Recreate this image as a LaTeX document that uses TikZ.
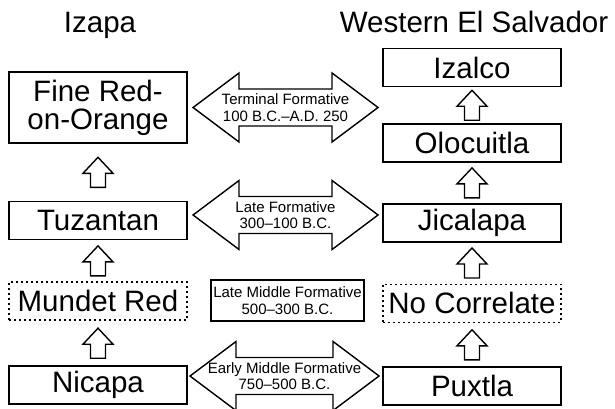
\documentclass[tikz,border=0pt]{standalone}
\usepackage{fontspec}
\setmainfont{Liberation Sans}
\usetikzlibrary{positioning, calc}

% hollow block arrow pointing up, between a lower and an upper box
\newcommand{\blockup}[3]{%
  \coordinate (#1) at ($(#2.north)!0.5!(#3.south)$);
  \draw[climb] ($(#1)+(-7.5,-15)$) -- ++(0,14) -- ++(-7.5,0) -- ($(#1)+(0,15)$)
    -- ($(#1)+(15,-1)$) -- ++(-7.5,0) -- ++(0,-14) -- cycle;
}
% hollow double arrow round a period label
\newcommand{\eraarrow}[2]{%
  \draw[era] ($(#1.center)+(-#2,0)$) -- ++(46,34.5) -- ++(0,-16)
    -- ($(#1.center)+(#2-46,18.5)$) -- ++(0,16) -- ($(#1.center)+(#2,0)$)
    -- ++(-46,-34.5) -- ++(0,16) -- ($(#1.center)+(-#2+46,-18.5)$) -- ++(0,-16) -- cycle;
}

\begin{document}
\begin{tikzpicture}[
    x=1pt, y=1pt,
    site/.style={font=\fontsize{29.5}{30}\selectfont, anchor=base, inner sep=0pt},
    phase/.style={rectangle, draw=black, line width=1.6pt, minimum width=178pt, minimum height=38pt, inner sep=0pt, align=center, font=\fontsize{29.5}{28}\selectfont},
    dotbox/.style={phase, line width=1.8pt, dash pattern=on 2pt off 3pt},
    midbox/.style={rectangle, draw=black, line width=1.6pt, minimum width=153pt, minimum height=41pt, inner sep=0pt, align=center, font=\fontsize{15}{16.5}\selectfont},
    climb/.style={draw=black, line width=1.4pt, line join=miter},
    era/.style={draw=black, line width=1.4pt, line join=miter},
    lbl/.style={align=center, font=\fontsize{15}{16.5}\selectfont, inner sep=0pt}
]
    \useasboundingbox (0,0) rectangle (615,-409);

    % column titles
    \node[site] (izapa) at (100,-33) {Izapa};
    \node[site] (wes) at (474,-33) {Western El Salvador};

    % Izapa sequence
    \node[phase, minimum height=71pt] (fro) at (98,-107.5) {Fine Red-\\on-Orange};
    \node[phase] (tuz) [below=57pt of fro] {Tuzantan};
    \node[dotbox] (mun) [below=41pt of tuz] {Mundet Red};
    \node[phase] (nic) [below=44pt of mun] {Nicapa};

    % Western El Salvador sequence
    \node[phase] (iza) at (472,-67.5) {Izalco};
    \node[phase] (olo) [below=36pt of iza] {Olocuitla};
    \node[phase] (jic) [below=40pt of olo] {Jicalapa};
    \node[dotbox] (noc) [below=41pt of jic] {No Correlate};
    \node[phase] (pux) [below=43pt of noc] {Puxtla};

    % succession arrows
    \blockup{u1}{tuz}{fro}
    \blockup{u2}{mun}{tuz}
    \blockup{u3}{nic}{mun}
    \blockup{u4}{olo}{iza}
    \blockup{u5}{jic}{olo}
    \blockup{u6}{noc}{jic}
    \blockup{u7}{pux}{noc}

    % periods
    \node[lbl] (term) at (285.5,-107.5) {Terminal Formative\\100 B.C.--A.D. 250};
    \node[lbl] (late) at (285.5,-215) {Late Formative\\300--100 B.C.};
    \node[midbox] (lmid) at (287.5,-300.5) {Late Middle Formative\\500--300 B.C.};
    \node[lbl] (emid) at (284.5,-376) {Early Middle Formative\\750--500 B.C.};
    \eraarrow{term}{92.5}
    \eraarrow{late}{92.5}
    \eraarrow{emid}{94.5}
\end{tikzpicture}
\end{document}
